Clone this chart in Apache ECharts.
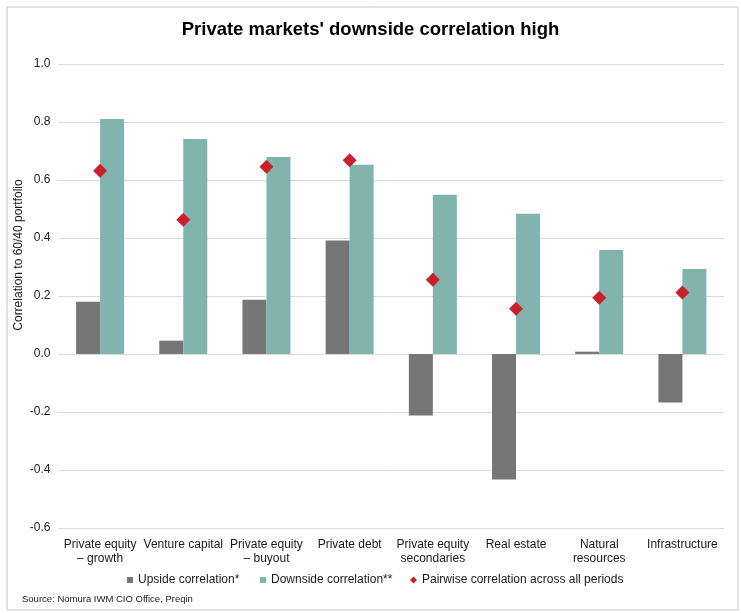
<!DOCTYPE html>
<html>
<head>
<meta charset="utf-8">
<script src="https://cdn.jsdelivr.net/npm/echarts@6/dist/echarts.min.js"></script>
<style>
html,body{margin:0;padding:0;background:#fff;}
#chart{width:741px;height:613px;}
</style>
</head>
<body>
<div id="chart"></div>
<script>
const categories = [
  "Private equity\n– growth",
  "Venture capital",
  "Private equity\n– buyout",
  "Private debt",
  "Private equity\nsecondaries",
  "Real estate",
  "Natural\nresources",
  "Infrastructure"
];
const upside = [0.18, 0.046, 0.187, 0.391, -0.212, -0.433, 0.008, -0.167];
const downside = [0.81, 0.741, 0.679, 0.653, 0.549, 0.484, 0.359, 0.293];
const pairwise = [0.632, 0.463, 0.646, 0.668, 0.256, 0.156, 0.194, 0.212];
const yTicks = { min: -0.6, max: 1.0, step: 0.2 };

const FONT = '"Liberation Sans", Arial, sans-serif';
const chart = echarts.init(document.getElementById('chart'));
const legendText = { fontFamily: FONT, fontSize: 12, color: '#1a1a1a' };

chart.setOption({
  animation: false,
  backgroundColor: '#fff',
  title: {
    text: "Private markets' downside correlation high",
    left: 'center', top: 15,
    textStyle: { fontFamily: FONT, fontSize: 18.5, fontWeight: 'bold', color: '#000' }
  },
  grid: { left: 58.5, right: 17, top: 64, bottom: 85, containLabel: false },
  legend: [
    { data: ['Upside correlation*'], left: 127, top: 574, icon: 'rect', itemWidth: 6, itemHeight: 6, textStyle: legendText, padding: 0 },
    { data: ['Downside correlation**'], left: 260, top: 574, icon: 'rect', itemWidth: 6, itemHeight: 6, textStyle: legendText, padding: 0 },
    { data: ['Pairwise correlation across all periods'], left: 410, top: 574, icon: 'diamond', itemWidth: 7, itemHeight: 7, textStyle: legendText, padding: 0 }
  ],
  xAxis: {
    type: 'category',
    data: categories,
    axisLine: { show: false, onZero: false },
    axisTick: { show: false },
    axisLabel: { fontFamily: FONT, fontSize: 12, color: '#1a1a1a', margin: 10, lineHeight: 14, interval: 0 }
  },
  yAxis: {
    type: 'value',
    min: yTicks.min, max: yTicks.max, interval: yTicks.step,
    axisLine: { show: false },
    axisTick: { show: false },
    splitLine: { lineStyle: { color: '#d9d9d9', width: 1 } },
    axisLabel: {
      fontFamily: FONT, fontSize: 12, color: '#1a1a1a', margin: 8,
      formatter: v => v.toFixed(1)
    }
  },
  graphic: [
    {
      type: 'rect', left: 4.5, top: 4.5, silent: true,
      shape: { width: 731, height: 603 },
      style: { fill: 'none', stroke: '#c6c6c6', lineWidth: 1 }
    },
    {
      type: 'text', x: 19, y: 255, rotation: Math.PI / 2, silent: true,
      style: {
        text: 'Correlation to 60/40 portfolio', fontFamily: FONT, fontSize: 12,
        fill: '#1a1a1a', align: 'center', verticalAlign: 'middle'
      }
    },
    {
      type: 'text', left: 22, top: 594, silent: true,
      style: { text: 'Source: Nomura IWM CIO Office, Preqin', fontFamily: FONT, fontSize: 9.5, fill: '#1a1a1a' }
    }
  ],
  series: [
    {
      name: 'Upside correlation*', type: 'bar', data: upside,
      barWidth: 24, barGap: '0%',
      itemStyle: { color: '#767676' }
    },
    {
      name: 'Downside correlation**', type: 'bar', data: downside,
      barWidth: 24, barGap: '0%',
      itemStyle: { color: '#80b4ad' }
    },
    {
      name: 'Pairwise correlation across all periods', type: 'scatter', data: pairwise,
      symbol: 'diamond', symbolSize: 14,
      itemStyle: { color: '#c9202b', opacity: 1 }, z: 5
    }
  ]
});
</script>
</body>
</html>
